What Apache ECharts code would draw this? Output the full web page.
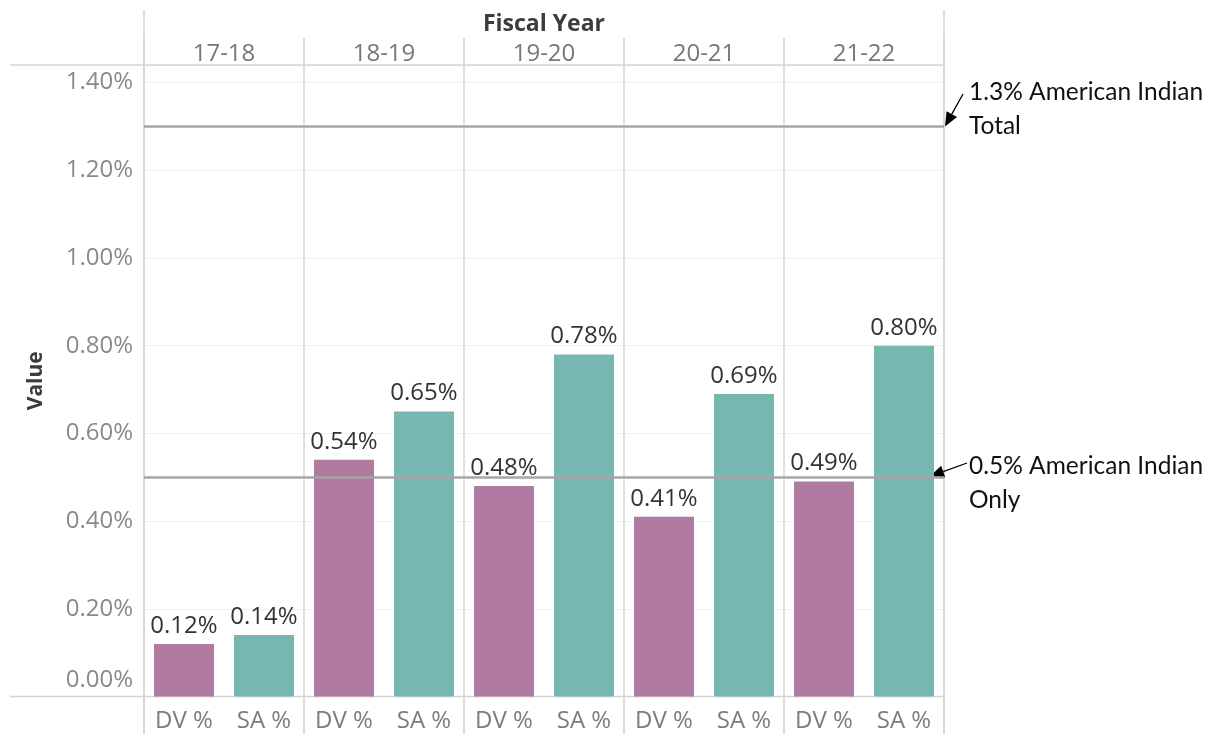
<!DOCTYPE html>
<html>
<head>
<meta charset="utf-8">
<script src="https://cdn.jsdelivr.net/npm/echarts@6/dist/echarts.min.js"></script>
<style>
  html, body { margin: 0; padding: 0; background: #fff; }
  #chart { width: 1211px; height: 734px; }
</style>
</head>
<body>
<div id="chart"></div>
<script>
// ---- Data ----
const fiscalYears = ['17-18', '18-19', '19-20', '20-21', '21-22'];
const measures = ['DV %', 'SA %'];
const dvValues = [0.12, 0.54, 0.48, 0.41, 0.49];
const saValues = [0.14, 0.65, 0.78, 0.69, 0.80];
const refTotal = 1.3;
const refOnly = 0.5;
const refTotalText = ['1.3% American Indian', 'Total'];
const refOnlyText = ['0.5% American Indian', 'Only'];

// ---- Build categories ----
const DV_COLOR = '#B07AA1';
const SA_COLOR = '#76B7B2';
const cats = [];
const barData = [];
fiscalYears.forEach((fy, i) => {
  cats.push(measures[0]);
  barData.push({ value: dvValues[i], itemStyle: { color: DV_COLOR } });
  cats.push(measures[1]);
  barData.push({ value: saValues[i], itemStyle: { color: SA_COLOR } });
});

const FONT = 'Open Sans';
const LINE = '#d4d4d4';
const G = { left: 144, right: 267, top: 65, bottom: 37.5 };

const chart = echarts.init(document.getElementById('chart'), null, { renderer: 'canvas' });

const option = {
  animation: false,
  backgroundColor: '#ffffff',
  textStyle: { fontFamily: FONT },
  grid: { left: G.left, right: G.right, top: G.top, bottom: G.bottom, containLabel: false },
  xAxis: [
    {
      type: 'category',
      data: cats,
      position: 'bottom',
      axisLine: { show: false },
      axisTick: { show: false },
      axisLabel: { fontFamily: FONT, fontSize: 24, color: '#7b7b7b', margin: 13 },
      splitLine: { show: false }
    },
    {
      type: 'category',
      data: fiscalYears,
      position: 'top',
      axisLine: { show: false },
      axisTick: { show: true, length: 27, lineStyle: { color: LINE, width: 1.5 } },
      axisLabel: { fontFamily: FONT, fontSize: 24, color: '#777777', margin: -1 },
      splitLine: { show: true, lineStyle: { color: LINE, width: 1.5 } },
      name: 'Fiscal Year',
      nameLocation: 'middle',
      nameGap: 29,
      nameTextStyle: { fontFamily: FONT, fontSize: 23, fontWeight: 'bold', color: '#3c3c3c' }
    },
    {
      type: 'category',
      data: fiscalYears,
      position: 'bottom',
      axisLine: { show: false },
      axisTick: { show: true, length: 40, lineStyle: { color: LINE, width: 1.5 } },
      axisLabel: { show: false },
      splitLine: { show: false }
    }
  ],
  yAxis: {
    type: 'value',
    min: 0,
    max: 1.44,
    interval: 0.2,
    name: 'Value',
    nameLocation: 'middle',
    nameGap: 97,
    nameTextStyle: { fontFamily: FONT, fontSize: 21, fontWeight: 'bold', color: '#3c3c3c' },
    axisLine: { show: false },
    axisTick: { show: false },
    axisLabel: {
      fontFamily: FONT, fontSize: 24, color: '#8a8a8a', margin: 11,
      formatter: function (v) {
        const s = v.toFixed(2) + '%';
        return v === 0 ? '{z|' + s + '}' : s;
      },
      rich: { z: { fontFamily: FONT, fontSize: 24, color: '#8a8a8a', padding: [0, 0, 32, 0] } }
    },
    splitLine: { show: true, lineStyle: { color: '#efefef', width: 1 } }
  },
  series: [
    {
      type: 'bar',
      xAxisIndex: 0,
      data: barData,
      barWidth: 60,
      label: {
        show: true,
        position: 'top',
        distance: 6,
        fontFamily: FONT,
        fontSize: 24,
        color: '#333333',
        formatter: function (p) { return p.value.toFixed(2) + '%'; }
      },
      markLine: {
        silent: true,
        symbol: ['none', 'none'],
        label: { show: false },
        lineStyle: { color: '#a6a6a6', width: 2.5, type: 'solid' },
        data: [{ yAxis: refTotal }, { yAxis: refOnly }]
      }
    }
  ]
};

chart.setOption(option);

// ---- Frame extensions and annotations ----
const x0 = G.left;
const x1 = 1211 - G.right;
const yTopPix = G.top;
const yBotPix = chart.convertToPixel({ yAxisIndex: 0 }, 0);
const yTot = chart.convertToPixel({ yAxisIndex: 0 }, refTotal);
const yOnly = chart.convertToPixel({ yAxisIndex: 0 }, refOnly);

function line(xa, ya, xb, yb, color, w) {
  return { type: 'line', silent: true, shape: { x1: xa, y1: ya, x2: xb, y2: yb }, style: { stroke: color, lineWidth: w } };
}
function arrow(tx, ty, hx, hy) {
  const dx = hx - tx, dy = hy - ty;
  const len = Math.sqrt(dx * dx + dy * dy);
  const ux = dx / len, uy = dy / len;
  const hl = 14, hw = 6;
  const bx = hx - ux * hl, by = hy - uy * hl;
  const px = -uy, py = ux;
  return [
    line(tx, ty, bx, by, '#000', 1.3),
    { type: 'polygon', silent: true, shape: { points: [[hx, hy], [bx + px * hw, by + py * hw], [bx - px * hw, by - py * hw]] }, style: { fill: '#000' } }
  ];
}
const ANN_FONT = 'Lato';
function annText(x, y, s) {
  return { type: 'text', silent: true, x: x, y: y, style: { text: s, font: '24.5px ' + ANN_FONT, fill: '#111', textAlign: 'left', textVerticalAlign: 'middle' } };
}

const graphics = [
  line(x0, 10, x0, 734, LINE, 1.5),
  line(x1, 10, x1, 734, LINE, 1.5),
  line(10, yTopPix, x1, yTopPix, LINE, 1.5),
  line(10, yBotPix, x1, yBotPix, LINE, 1.5),
  ...arrow(963, 94, x1 + 1, yTot),
  ...arrow(967, 463, x1 - 14, yOnly - 1),
  annText(969, yTot - 34, refTotalText[0]),
  annText(969, yTot, refTotalText[1]),
  annText(969, yOnly - 11, refOnlyText[0]),
  annText(969, yOnly + 23, refOnlyText[1])
];
chart.setOption({ graphic: graphics });
</script>
</body>
</html>
